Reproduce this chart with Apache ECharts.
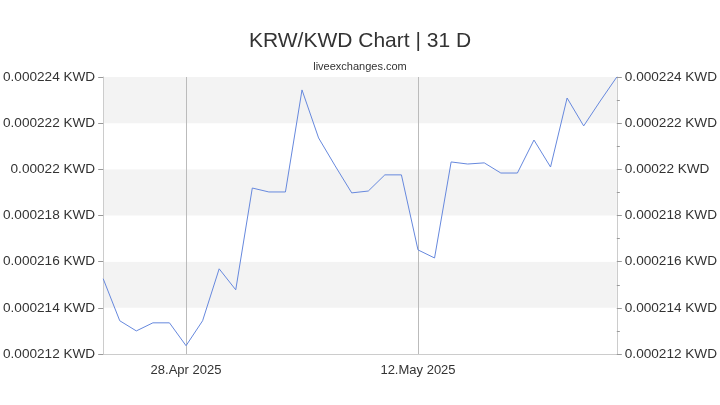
<!DOCTYPE html>
<html><head><meta charset="utf-8">
<script src="https://cdn.jsdelivr.net/npm/echarts@6/dist/echarts.min.js"></script>
<style>html,body{margin:0;padding:0;background:#fff}#c{width:720px;height:405px}</style>
</head><body><div id="c"></div>
<script>
const dates = ['23.Apr','24.Apr','25.Apr','26.Apr','27.Apr','28.Apr 2025','29.Apr','30.Apr','1.May','2.May','3.May','4.May','5.May','6.May','7.May','8.May','9.May','10.May','11.May','12.May 2025','13.May','14.May','15.May','16.May','17.May','18.May','19.May','20.May','21.May','22.May','23.May','24.May'];
const values = [215.26,213.44,213.0,213.35,213.35,212.36,213.44,215.69,214.78,219.19,219.02,219.02,223.44,221.36,220.15,218.98,219.06,219.76,219.76,216.51,216.16,220.32,220.23,220.28,219.84,219.84,221.27,220.10,223.09,221.88,222.96,224.0].map(v=>+(v*1e-6).toFixed(9));
const shown = [5,19];
const fmt2 = v => { let s=v.toFixed(6); if(s==='0.000220') s='0.00022'; return s+' KWD'; };
const yAx = (pos) => ({
  type:'value', position:pos, min:0.000212, max:0.000224, interval:0.000002,
  axisLine:{show:true,lineStyle:{color:'#ccc'}},
  axisTick:{show:true,lineStyle:{color:'#999'}},
  minorTick:{show:pos==='right',splitNumber:2,length:3,lineStyle:{color:'#999'}},
  axisLabel:{formatter:fmt2,color:'#333',fontSize:13.6,margin:8},
  splitLine:{show:false},
  splitArea:{show:pos==='left',areaStyle:{color:['#ffffff','#f3f3f3']}}
});
const chart = echarts.init(document.getElementById('c'));
chart.setOption({
  animation:false,
  title:[{text:'KRW/KWD Chart | 31 D',left:'center',top:26,textStyle:{fontSize:21,fontWeight:'normal',color:'#333'}},
         {text:'liveexchanges.com',left:'center',top:56,textStyle:{fontSize:11,fontWeight:'normal',color:'#333'}}],
  grid:{left:100,right:100,top:77,bottom:51},
  xAxis:{type:'category',data:dates,boundaryGap:false,
    axisLine:{lineStyle:{color:'#ccc'}},axisTick:{show:false},
    axisLabel:{interval:(i)=>shown.includes(i),color:'#333',fontSize:13,margin:10},
    splitLine:{show:true,interval:(i)=>shown.includes(i),lineStyle:{color:'#bbb'}}},
  yAxis:[yAx('left'),yAx('right')],
  series:[{type:'line',data:values,showSymbol:false,lineStyle:{width:1,color:'#6688dd'}}]
});
</script></body></html>
